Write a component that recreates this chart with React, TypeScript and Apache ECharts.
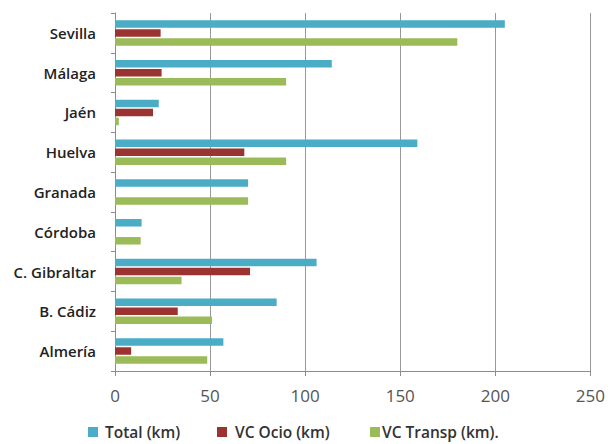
import React, { useEffect, useRef } from "react";
import * as echarts from "echarts";

const categories = ["Sevilla", "Málaga", "Jaén", "Huelva", "Granada", "Córdoba", "C. Gibraltar", "B. Cádiz", "Almería"];
const totalKm = [205, 114, 23, 159, 70, 14, 106, 85, 57];
const ocioKm = [24, 24.5, 20, 68, 0, 0, 71, 33, 8.5];
const transpKm = [180, 90, 2, 90, 70, 13.5, 35, 51, 48.5];
const seriesNames = ["Total (km)", "VC Ocio (km)", "VC Transp (km)."];
const xTicks = { min: 0, max: 250, interval: 50 };

export default function App() {
  const ref = useRef<HTMLDivElement>(null);
  useEffect(() => {
    if (!ref.current) return;
    const chart = echarts.init(ref.current, undefined, { renderer: "svg" });
    const colors = ["#4BACC6", "#9B3431", "#9BBB59"];
    const datasets = [totalKm, ocioKm, transpKm];
    const legendLefts = [88, 217, 370];
    const legendTextPad = [[0, 0, 0, 2], [0, 0, 0, 3], [0, 0, 0, -3]];
    chart.setOption({
      animation: false,
      backgroundColor: "#ffffff",
      textStyle: { fontFamily: "Open Sans" },
      legend: seriesNames.map((n, i) => ({
        top: 424,
        left: legendLefts[i],
        padding: 0,
        itemWidth: 10,
        itemHeight: 10,
        icon: "rect",
        textStyle: { fontSize: 15.5, color: "#333", fontWeight: 600, fontFamily: "Open Sans", padding: legendTextPad[i] },
        data: [n],
      })),
      grid: { left: 115, right: 17, top: 13, bottom: 73, containLabel: false },
      xAxis: {
        type: "value",
        min: xTicks.min,
        max: xTicks.max,
        interval: xTicks.interval,
        axisLine: { show: true, lineStyle: { color: "#8c8c8c", width: 1 } },
        axisTick: { show: true, length: 5, lineStyle: { color: "#8c8c8c" } },
        axisLabel: { fontSize: 17, color: "#555", margin: 16, fontFamily: "Open Sans" },
        splitLine: { show: true, lineStyle: { color: "#999", width: 1 } },
      },
      yAxis: {
        type: "category",
        inverse: true,
        data: categories,
        axisLine: { show: true, lineStyle: { color: "#8c8c8c", width: 1 } },
        axisTick: { show: true, length: 4, lineStyle: { color: "#8c8c8c" } },
        axisLabel: { fontSize: 15, color: "#222", fontWeight: 600, margin: 19, fontFamily: "Open Sans" },
      },
      series: datasets.map((d, i) => ({
        name: seriesNames[i],
        type: "bar",
        data: d,
        barWidth: 7.5,
        barGap: "20%",
        itemStyle: { color: colors[i] },
      })),
    });
    return () => chart.dispose();
  }, []);
  return <div ref={ref} style={{ position: "fixed", left: 0, top: 0, width: 608, height: 444 }} />;
}
